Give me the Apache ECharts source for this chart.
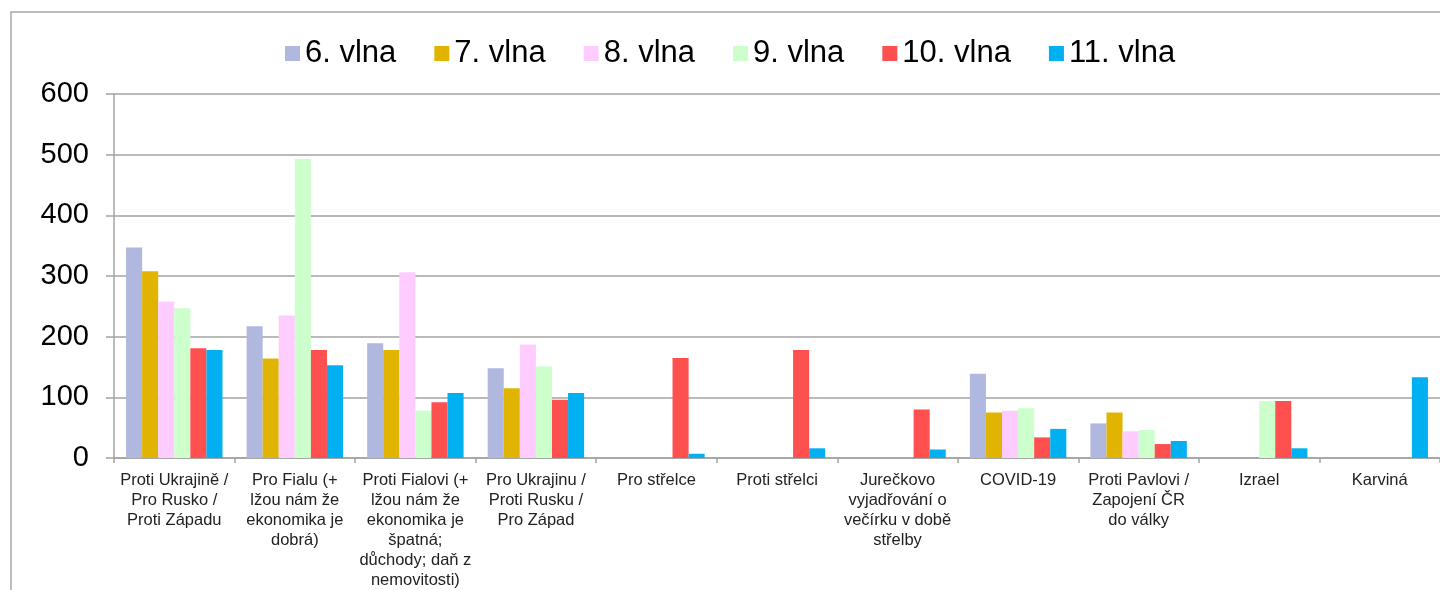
<!DOCTYPE html>
<html>
<head>
<meta charset="utf-8">
<script src="https://cdn.jsdelivr.net/npm/echarts@6/dist/echarts.min.js"></script>
<style>
  html, body { margin: 0; padding: 0; background: #fff; }
  #chart { width: 1440px; height: 590px; }
</style>
</head>
<body>
<div id="chart"></div>
<script>
// categories (x axis)
const categories = [
  'Proti Ukrajině /\nPro Rusko /\nProti Západu',
  'Pro Fialu (+\nlžou nám že\nekonomika je\ndobrá)',
  'Proti Fialovi (+\nlžou nám že\nekonomika je\nšpatná;\ndůchody; daň z\nnemovitosti)',
  'Pro Ukrajinu /\nProti Rusku /\nPro Západ',
  'Pro střelce',
  'Proti střelci',
  'Jurečkovo\nvyjadřování o\nvečírku v době\nstřelby',
  'COVID-19',
  'Proti Pavlovi /\nZapojení ČR\ndo války',
  'Izrael',
  'Karviná'
]

// one array per wave
const vlna6 = [347, 217, 189, 148, null, null, null, 139, 57, null, null]
const vlna7 = [308, 164, 178, 115, null, null, null, 75, 75, null, null]
const vlna8 = [258, 235, 306, 187, null, null, null, 78, 44, null, null]
const vlna9 = [247, 493, 78, 151, null, null, null, 82, 46, 94, null]
const vlna10 = [181, 178, 92, 96, 165, 178, 80, 34, 23, 94, null]
const vlna11 = [178, 153, 107, 107, 7, 16, 14, 48, 28, 16, 133]

const seriesNames = ['6. vlna', '7. vlna', '8. vlna', '9. vlna', '10. vlna', '11. vlna']
const seriesData = [vlna6, vlna7, vlna8, vlna9, vlna10, vlna11]
const colors = ['#B0B8E0', '#E0B400', '#FFCCFF', '#CCFFCC', '#FF5050', '#00B0F0']

const yTicks = { min: 0, max: 600, interval: 100 }

const chart = echarts.init(document.getElementById('chart'))
const font = "'Liberation Sans', Arial, sans-serif"
const gridColor = '#A3A3A3'

chart.setOption({
  animation: false,
  textStyle: { fontFamily: font },
  graphic: [
    {
      type: 'rect',
      shape: { x: 11, y: 12, width: 1600, height: 800 },
      style: { fill: 'none', stroke: '#A8A8A8', lineWidth: 1.5 },
      silent: true
    }
  ],
  legend: {
    data: seriesNames,
    left: 285,
    top: 38,
    padding: 0,
    icon: 'rect',
    itemWidth: 15,
    itemHeight: 15,
    itemGap: 38,
    textStyle: { fontSize: 31, color: '#000', fontFamily: font }
  },
  grid: {
    left: 114,
    top: 94,
    width: 1338,
    height: 367
  },
  xAxis: {
    type: 'category',
    data: categories,
    axisLine: { lineStyle: { color: gridColor, width: 1.5 } },
    axisTick: { show: true, length: 5, lineStyle: { color: gridColor, width: 1.5 } },
    axisLabel: {
      interval: 0,
      margin: 12,
      fontSize: 16.5,
      lineHeight: 20,
      color: '#222',
      fontFamily: font
    }
  },
  yAxis: {
    type: 'value',
    min: yTicks.min,
    max: yTicks.max,
    interval: yTicks.interval,
    axisLine: { show: true, lineStyle: { color: gridColor, width: 1.5 } },
    axisTick: { show: true, inside: false, length: 8, lineStyle: { color: gridColor, width: 1.5 } },
    splitLine: { lineStyle: { color: gridColor, width: 1.5 } },
    axisLabel: { fontSize: 29, margin: 25, color: '#000', fontFamily: font }
  },
  series: seriesNames.map((name, i) => ({
    name: name,
    type: 'bar',
    data: seriesData[i],
    barGap: '0%',
    barCategoryGap: '20%',
    itemStyle: { color: colors[i] }
  }))
})
</script>
</body>
</html>
